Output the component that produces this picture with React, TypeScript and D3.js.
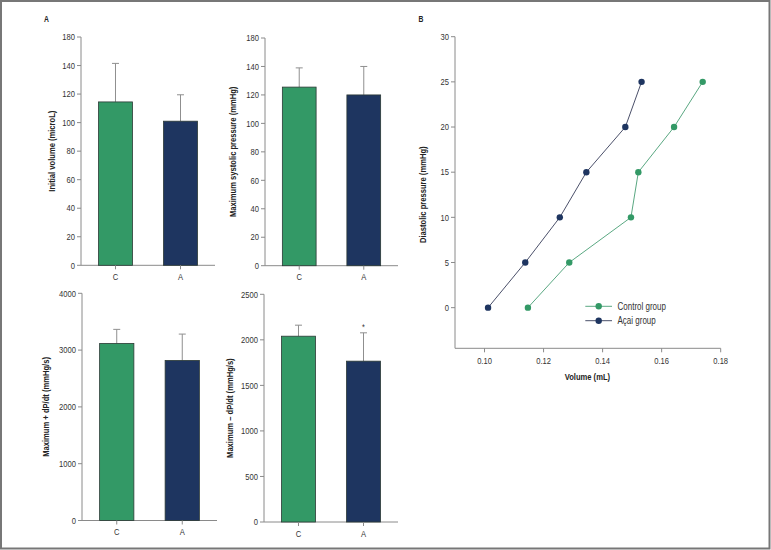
import React from "react";
import * as d3 from "d3";

const groups = ["C", "A"];
const colors = ["#339966", "#1e3560"];

const volMean = [114.5, 101];
const volErr = [27, 18.5];
const sysMean = [125.5, 120];
const sysErr = [13.5, 20];
const plusMean = [3118, 2818];
const plusErr = [247, 464];
const minusMean = [2040, 1766];
const minusErr = [121, 311];

const volTicks = [0, 20, 40, 60, 80, 100, 120, 140, 160];
const volTickLabels = ["0", "20", "40", "60", "80", "100", "120", "140", "180"];
const plusTicks = [0, 1000, 2000, 3000, 4000];
const minusTicks = [0, 500, 1000, 1500, 2000, 2500];

const pressureLevels = [0, 5, 10, 15, 20, 25];
const controlVolume = [0.1147, 0.1287, 0.1496, 0.1521, 0.1642, 0.1739];
const acaiVolume = [0.1012, 0.1138, 0.1255, 0.1345, 0.1477, 0.1532];
const seriesNames = ["Control group", "Açai group"];
const xTicksB = [0.1, 0.12, 0.14, 0.16, 0.18];
const yTicksB = [0, 5, 10, 15, 20, 25, 30];

const FONT = "'Liberation Sans', Arial, sans-serif";
const AXIS = "#8a8a8a";
const TXT = "#333";
const NARROW = 0.8;

type TProps = {
  x: number; y: number; anchor?: "start" | "middle" | "end"; size?: number;
  bold?: boolean; rot?: boolean; fill?: string; children: React.ReactNode;
};

function NText(p: TProps) {
  const tr = `translate(${p.x},${p.y})${p.rot ? " rotate(-90)" : ""} scale(${NARROW},1)`;
  return (
    <text transform={tr} textAnchor={p.anchor || "start"} fontSize={p.size || 9}
      fontWeight={p.bold ? "bold" : "normal"} fill={p.fill || TXT} fontFamily={FONT}>
      {p.children}
    </text>
  );
}

type BarProps = {
  left: number; right: number; bottom: number; top: number; max: number;
  ticks: number[]; tickLabels?: string[]; means: number[]; errs: number[];
  title: string; titleX: number; star?: boolean;
};

function BarPanel(p: BarProps) {
  const y = d3.scaleLinear().domain([0, p.max]).range([p.bottom, p.top]);
  const x = d3.scaleBand<string>().domain(groups).range([p.left, p.right]).paddingInner(0.477).paddingOuter(0.269);
  const bw = x.bandwidth();
  return (
    <g>
      <line x1={p.left} x2={p.left} y1={p.top} y2={p.bottom} stroke={AXIS} strokeWidth={1} />
      <line x1={p.left} x2={p.right} y1={p.bottom} y2={p.bottom} stroke={AXIS} strokeWidth={1} />
      {p.ticks.map((t, i) => (
        <g key={t}>
          <line x1={p.left - 4} x2={p.left} y1={y(t)} y2={y(t)} stroke={AXIS} />
          <NText x={p.left - 6} y={y(t) + 3.2} anchor="end" size={9.5}>
            {p.tickLabels ? p.tickLabels[i] : String(t)}
          </NText>
        </g>
      ))}
      {groups.map((g, i) => {
        const x0 = x(g)!;
        const cx = x0 + bw / 2;
        const eTop = y(p.means[i] + p.errs[i]);
        return (
          <g key={g}>
            <line x1={cx} x2={cx} y1={y(p.means[i])} y2={eTop} stroke="#8f8f8f" strokeWidth={1} />
            <line x1={cx - 3.5} x2={cx + 3.5} y1={eTop} y2={eTop} stroke="#8f8f8f" strokeWidth={1} />
            <rect x={x0} y={y(p.means[i])} width={bw} height={p.bottom - y(p.means[i])} fill={colors[i]} stroke="#2c3a36" strokeWidth={0.8} />
            <line x1={cx} x2={cx} y1={p.bottom} y2={p.bottom + 4} stroke={AXIS} />
            <NText x={cx} y={p.bottom + 14.5} anchor="middle" size={9.5}>{g}</NText>
            {p.star && i === 1 ? (
              <NText x={cx} y={eTop - 3} anchor="middle" size={9}>*</NText>
            ) : null}
          </g>
        );
      })}
      <NText x={p.titleX + 3.2} y={(p.top + p.bottom) / 2} anchor="middle" size={9.5} bold rot fill="#222">
        {p.title}
      </NText>
    </g>
  );
}

function ScatterPanel() {
  const left = 455, right = 720.7, top = 36.7, bottom = 348.3;
  const x = d3.scaleLinear().domain([0.09, 0.18]).range([left, right]);
  const y = d3.scaleLinear().domain([-4.5, 30]).range([bottom, top]);
  const line = d3.line<[number, number]>().x(d => x(d[0])).y(d => y(d[1]));
  const series = [controlVolume, acaiVolume];
  const lineColors = ["#5aa882", "#4b506a"];
  return (
    <g>
      <line x1={left} x2={left} y1={top} y2={bottom} stroke={AXIS} />
      <line x1={left} x2={right} y1={bottom} y2={bottom} stroke={AXIS} />
      {yTicksB.map(t => (
        <g key={t}>
          <line x1={left - 4} x2={left} y1={y(t)} y2={y(t)} stroke={AXIS} />
          <NText x={left - 6} y={y(t) + 3.2} anchor="end" size={9.5}>{t}</NText>
        </g>
      ))}
      {xTicksB.map(t => (
        <g key={t}>
          <line x1={x(t)} x2={x(t)} y1={bottom} y2={bottom + 4} stroke={AXIS} />
          <NText x={x(t)} y={bottom + 16} anchor="middle" size={9.5}>{d3.format(".2f")(t)}</NText>
        </g>
      ))}
      <NText x={(left + right) / 2 - 0.5} y={bottom + 32} anchor="middle" size={9.5} bold fill="#222">Volume (mL)</NText>
      <NText x={426.2} y={y(12.5)} anchor="middle" size={9.5} bold rot fill="#222">Diastolic pressure (mmHg)</NText>
      {series.map((vols, si) => {
        const pts = vols.map((v, i) => [v, pressureLevels[i]] as [number, number]);
        return (
          <g key={si}>
            <path d={line(pts)!} fill="none" stroke={lineColors[si]} strokeWidth={1} />
            {pts.map((pt, i) => (
              <circle key={i} cx={x(pt[0])} cy={y(pt[1])} r={3.2} fill={colors[si]} />
            ))}
          </g>
        );
      })}
      {seriesNames.map((n, i) => {
        const ly = 306.3 + i * 14.4;
        return (
          <g key={n}>
            <line x1={585.3} x2={612} y1={ly} y2={ly} stroke={lineColors[i]} strokeWidth={1} />
            <circle cx={598.7} cy={ly} r={3.2} fill={colors[i]} />
            <NText x={617.5} y={ly + 3.5} size={10}>{n}</NText>
          </g>
        );
      })}
    </g>
  );
}

export default function App() {
  return (
    <svg width={771} height={550} style={{ position: "fixed", left: 0, top: 0, background: "#fff" }}>
      <rect x={0} y={0} width={771} height={550} fill="#fff" />
      <rect x={1} y={1} width={768.5} height={547.5} fill="none" stroke="#777" strokeWidth={2} />
      <NText x={46.5} y={22} anchor="middle" size={8.5} bold fill="#222">A</NText>
      <NText x={421} y={22} anchor="middle" size={8.5} bold fill="#222">B</NText>
      <BarPanel left={81} right={215} bottom={265.3} top={37} max={160} ticks={volTicks} tickLabels={volTickLabels}
        means={volMean} errs={volErr} title="Initial volume (microL)" titleX={51.7} />
      <BarPanel left={265} right={398} bottom={265.7} top={38} max={160} ticks={volTicks} tickLabels={volTickLabels}
        means={sysMean} errs={sysErr} title="Maximum systolic pressure (mmHg)" titleX={233} />
      <BarPanel left={82} right={217} bottom={520.5} top={293.3} max={4000} ticks={plusTicks}
        means={plusMean} errs={plusErr} title="Maximum + dP/dt (mmHg/s)" titleX={45.7} />
      <BarPanel left={264} right={398} bottom={522} top={294.3} max={2500} ticks={minusTicks}
        means={minusMean} errs={minusErr} title="Maximum – dP/dt (mmHg/s)" titleX={230} star />
      <ScatterPanel />
    </svg>
  );
}
